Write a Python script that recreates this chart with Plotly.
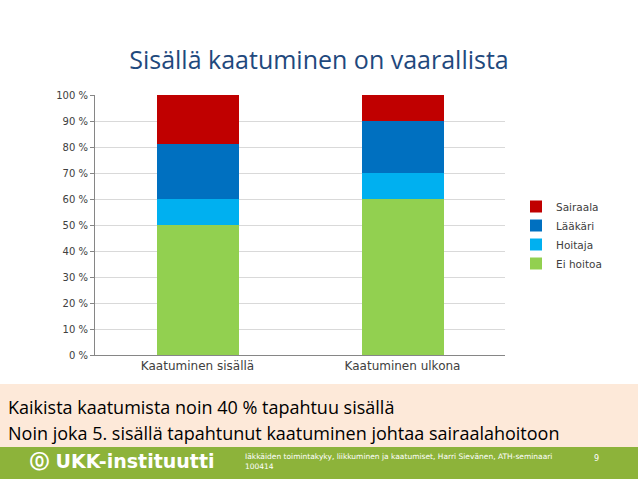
import plotly.graph_objects as go

categories = ["Kaatuminen sisällä", "Kaatuminen ulkona"]
series = ["Ei hoitoa", "Hoitaja", "Lääkäri", "Sairaala"]
values = {
    "Ei hoitoa": [50, 60],
    "Hoitaja": [10, 10],
    "Lääkäri": [21, 20],
    "Sairaala": [19, 10],
}
colors = {"Ei hoitoa": "#92D050", "Hoitaja": "#00B0F0", "Lääkäri": "#0070C0", "Sairaala": "#C00000"}
yticks = list(range(0, 101, 10))

fig = go.Figure()
for s in series:
    fig.add_bar(x=categories, y=values[s], name=s, marker_color=colors[s], marker_line_width=0)

L, R, T, B = 95, 133, 95, 124
PW, PH = 638 - L - R, 479 - T - B
fig.update_layout(
    width=638, height=479, barmode="stack", bargap=0.6,
    paper_bgcolor="white", plot_bgcolor="white",
    margin=dict(l=L, r=R, t=T, b=B),
    font=dict(family="DejaVu Sans", size=11, color="#404040"),
    title=dict(text="Sisällä kaatuminen on vaarallista", x=0.5, xanchor="center", y=0.875, yanchor="middle",
               font=dict(family="Open Sans", size=25, color="#1F497D")),
    showlegend=True,
)

def ypx(py):
    return (479 - py - B) / PH
def xpx(px):
    return (px - L) / PW

fig.update_layout(legend=dict(x=xpx(516), y=ypx(235), yanchor="middle", traceorder="reversed",
                              font=dict(size=10.5, color="#404040"), itemwidth=30))
fig.update_yaxes(range=[0, 100], tickvals=yticks, ticktext=[f"{v} %" for v in yticks],
                 showgrid=True, gridcolor="#D9D9D9", showline=True, linecolor="#868686",
                 ticks="outside", ticklen=4, tickcolor="#868686", tickfont=dict(size=10))
fig.update_xaxes(showline=True, linecolor="#868686", tickfont=dict(size=12))

fig.add_shape(type="rect", xref="paper", yref="paper", x0=xpx(0), x1=xpx(638),
              y0=ypx(479), y1=ypx(447), fillcolor="#8DB33A", line_width=0, layer="below")
fig.add_shape(type="rect", xref="paper", yref="paper", x0=xpx(0), x1=xpx(638),
              y0=ypx(447), y1=ypx(384), fillcolor="#FDE9D9", line_width=0, layer="below")

fig.add_annotation(text="Kaikista kaatumista noin 40 % tapahtuu sisällä", xref="paper", yref="paper",
                   x=xpx(6), y=ypx(407), xanchor="left", yanchor="middle", showarrow=False,
                   font=dict(family="Open Sans", size=18, color="black"))
fig.add_annotation(text="Noin joka 5. sisällä tapahtunut kaatuminen johtaa sairaalahoitoon", xref="paper", yref="paper",
                   x=xpx(6), y=ypx(433), xanchor="left", yanchor="middle", showarrow=False,
                   font=dict(family="Open Sans", size=18, color="black"))
fig.add_annotation(text="<b>⓪ UKK-instituutti</b>", xref="paper", yref="paper",
                   x=xpx(28), y=ypx(461), xanchor="left", yanchor="middle", showarrow=False,
                   font=dict(family="DejaVu Sans", size=19, color="white"))
fig.add_annotation(text="Iäkkäiden toimintakyky, liikkuminen ja kaatumiset, Harri Sievänen, ATH-seminaari<br>100414",
                   xref="paper", yref="paper", x=xpx(243), y=ypx(462), xanchor="left", yanchor="middle",
                   align="left", showarrow=False, font=dict(family="DejaVu Sans", size=7.5, color="white"))
fig.add_annotation(text="9", xref="paper", yref="paper", x=xpx(596), y=ypx(458), xanchor="center",
                   yanchor="middle", showarrow=False, font=dict(size=8, color="white"))

fig.write_html("out.html", config={"displayModeBar": False},
               post_script="document.body.style.margin='0';document.body.style.overflow='hidden';")
